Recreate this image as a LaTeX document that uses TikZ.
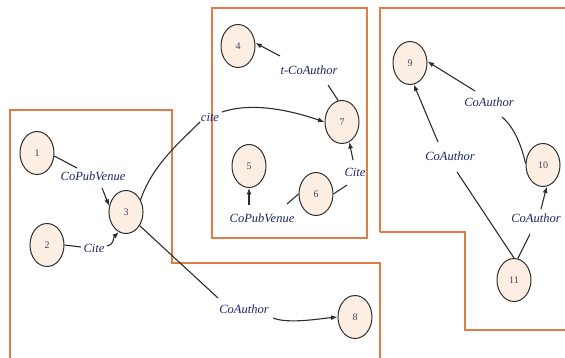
\documentclass[tikz,border=0pt]{standalone}
\usepackage{fontspec}
\setmainfont{Liberation Serif}
\usetikzlibrary{shapes.geometric,arrows.meta}
\definecolor{regionline}{HTML}{E27B45}
\definecolor{vertexfill}{HTML}{FCEEE2}
\definecolor{vertexline}{HTML}{2E2E2E}
\definecolor{labelink}{HTML}{1C2566}
\definecolor{numink}{HTML}{4A3F5C}
\tikzset{
  vertex/.style={ellipse, draw=vertexline, line width=1pt, fill=vertexfill,
    minimum width=34pt, minimum height=43pt, inner sep=0pt,
    font=\fontsize{10}{11}\selectfont, text=numink},
  rel/.style={inner sep=0pt, text=labelink,
    font=\fontsize{12.5}{13}\selectfont\itshape},
  ln/.style={draw=vertexline, line width=1.1pt},
  arr/.style={ln, -{Latex[length=6.5pt,width=5pt]}},
  region/.style={draw=regionline, line width=1.3pt}
}
\begin{document}
\begin{tikzpicture}[x=1pt,y=-1pt]
\useasboundingbox (0,0) rectangle (565,358);
\fill[white] (0,0) rectangle (565,358);

% partition outlines
\draw[region] (10,358) -- (10,110) -- (172,110) -- (172,263) -- (380,263) -- (380,358);
\draw[region] (212,8) rectangle (367,238);
\draw[region] (380,232) -- (380,8) -- (565,8);
\draw[region] (380,232) -- (465,232) -- (465,330) -- (565,330);

% vertices
\node[vertex] (n1)  at (37,153)  {1};
\node[vertex] (n2)  at (47,245)  {2};
\node[vertex] (n3)  at (126,212) {3};
\node[vertex] (n4)  at (238,46)  {4};
\node[vertex] (n5)  at (249,166) {5};
\node[vertex] (n6)  at (316,194) {6};
\node[vertex] (n7)  at (342,122) {7};
\node[vertex] (n8)  at (355,317) {8};
\node[vertex] (n9)  at (410,63)  {9};
\node[vertex] (n10) at (543,165) {10};
\node[vertex] (n11) at (514,280) {11};

% relation labels
\node[rel] (l13)  at (93,176)  {CoPubVenue};
\node[rel] (l23)  at (94,248)  {Cite};
\node[rel] (l37)  at (210,117) {cite};
\node[rel] (l38)  at (244,309) {CoAuthor};
\node[rel] (l74)  at (309,70)  {t-CoAuthor};
\node[rel] (l67)  at (355,172) {Cite};
\node[rel] (l65)  at (262,218) {CoPubVenue};
\node[rel] (l109) at (489,102) {CoAuthor};
\node[rel] (l119) at (450,156) {CoAuthor};
\node[rel] (l1110) at (536,218) {CoAuthor};

% 1 -> 3
\draw[ln]  (n1.-10) -- ([shift={(-16,-8)}]l13.center);
\draw[arr] ([shift={(9,12)}]l13.center) -- (n3.160);
% 2 -> 3
\draw[ln]  (n2.east) -- ([shift={(-13,-1)}]l23.center);
\draw[arr] ([shift={(13,-2)}]l23.center) .. controls +(8,-2) and +(-6,6) .. (n3.250);
% 3 -> 7
\draw[ln]  (n3.40) .. controls +(12,-35) and +(-20,20) .. ([shift={(-10,5)}]l37.center);
\draw[arr] ([shift={(12,-5)}]l37.center) .. controls +(30,-10) and +(-35,-12) .. (n7.west);
% 3 -> 8
\draw[ln]  (n3.-45) -- ([shift={(-26,-11)}]l38.center);
\draw[arr] ([shift={(29,9)}]l38.center) .. controls +(15,6) and +(-20,2) .. (n8.west);
% 7 -> 4
\draw[ln]  (n7.100) -- ([shift={(19,15)}]l74.center);
\draw[arr] ([shift={(-29,-14)}]l74.center) -- (n4.10);
% 6 -> 7
\draw[ln]  (n6.0) -- ([shift={(-8,13)}]l67.center);
\draw[arr] ([shift={(-2,-12)}]l67.center) -- (n7.-70);
% 6 -> 5
\draw[ln]  (n6.180) -- ([shift={(25,-14)}]l65.center);
\draw[arr] ([shift={(-13,-13)}]l65.center) -- (n5.south);
% 10 -> 9
\draw[ln]  (n10.175) .. controls +(-4,-18) and +(12,10) .. ([shift={(13,15)}]l109.center);
\draw[arr] ([shift={(-14,-11)}]l109.center) -- (n9.5);
% 11 -> 9
\draw[ln]  (n11.north) -- ([shift={(7,16)}]l119.center);
\draw[arr] ([shift={(-12,-14)}]l119.center) -- (n9.-80);
% 11 -> 10
\draw[ln]  (n11.80) -- ([shift={(-6,16)}]l1110.center);
\draw[arr] ([shift={(5,-9)}]l1110.center) -- (n10.-80);
\end{tikzpicture}
\end{document}
